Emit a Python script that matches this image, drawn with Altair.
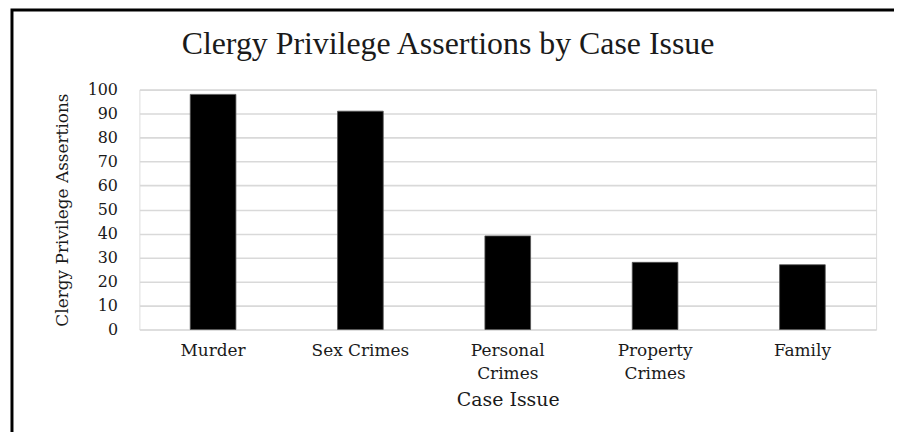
import json
import altair as alt
import pandas as pd

# Data
categories = ["Murder", "Sex Crimes", "Personal Crimes", "Property Crimes", "Family"]
label_lines = [["Murder"], ["Sex Crimes"], ["Personal", "Crimes"], ["Property", "Crimes"], ["Family"]]
values = [98, 91, 39, 28, 27]
y_ticks = [0, 10, 20, 30, 40, 50, 60, 70, 80, 90, 100]
title_text = "Clergy Privilege Assertions by Case Issue"

df = pd.DataFrame({"issue": categories, "count": values})

# label expression for multi-line x labels
expr = "datum.label"
for cat, lines in reversed(list(zip(categories, label_lines))):
    expr = f"datum.label == {json.dumps(cat)} ? {json.dumps(lines)} : ({expr})"

TFONT = "Liberation Serif"
AFONT = "DejaVu Serif"
TXT = "#1a1a1a"

bars = alt.Chart(df).mark_bar(color="black", stroke="#555555", strokeWidth=0.8).encode(
    x=alt.X(
        "issue:N",
        sort=categories,
        scale=alt.Scale(paddingInner=0.69, paddingOuter=0.345),
        axis=alt.Axis(
            title="Case Issue",
            labelAngle=0,
            labelExpr=expr,
            labelFont=AFONT,
            labelFontSize=17,
            labelColor=TXT,
            labelPadding=13,
            labelLineHeight=23,
            labelBaseline="top",
            domain=False,
            ticks=False,
            tickSize=0,
            titleFont=AFONT,
            titleFontSize=19,
            titleFontWeight="normal",
            titleColor=TXT,
            titlePadding=9,
        ),
    ),
    y=alt.Y(
        "count:Q",
        scale=alt.Scale(domain=[0, 100]),
        axis=alt.Axis(
            title="Clergy Privilege Assertions",
            values=y_ticks,
            labelFont=AFONT,
            labelFontSize=16,
            labelColor=TXT,
            labelPadding=22,
            domain=False,
            ticks=False,
            tickSize=0,
            grid=True,
            gridColor="#d9d9d9",
            gridWidth=1.6,
            titleFont=AFONT,
            titleFontSize=17,
            titleFontWeight="normal",
            titleColor=TXT,
            titlePadding=16,
        ),
    ),
)

title = alt.Chart(pd.DataFrame({"t": [title_text]})).mark_text(
    font=TFONT, fontSize=32, color=TXT, align="center", baseline="alphabetic"
).encode(text="t:N", x=alt.value(310), y=alt.value(-36))

frame = alt.Chart(pd.DataFrame({"a": [0]})).mark_rect(
    filled=False, stroke="black", strokeWidth=3
).encode(
    x=alt.value(-128), x2=alt.value(900), y=alt.value(-80), y2=alt.value(500)
)

chart = alt.layer(bars, title, frame).properties(
    width=740,
    height=241,
    padding={"left": 132, "top": 81, "right": 18, "bottom": 102},
    autosize=alt.AutoSizeParams(type="none"),
).configure_view(stroke=None).configure(background="white")

chart.save("out.html", embed_options={"renderer": "svg", "actions": False})
